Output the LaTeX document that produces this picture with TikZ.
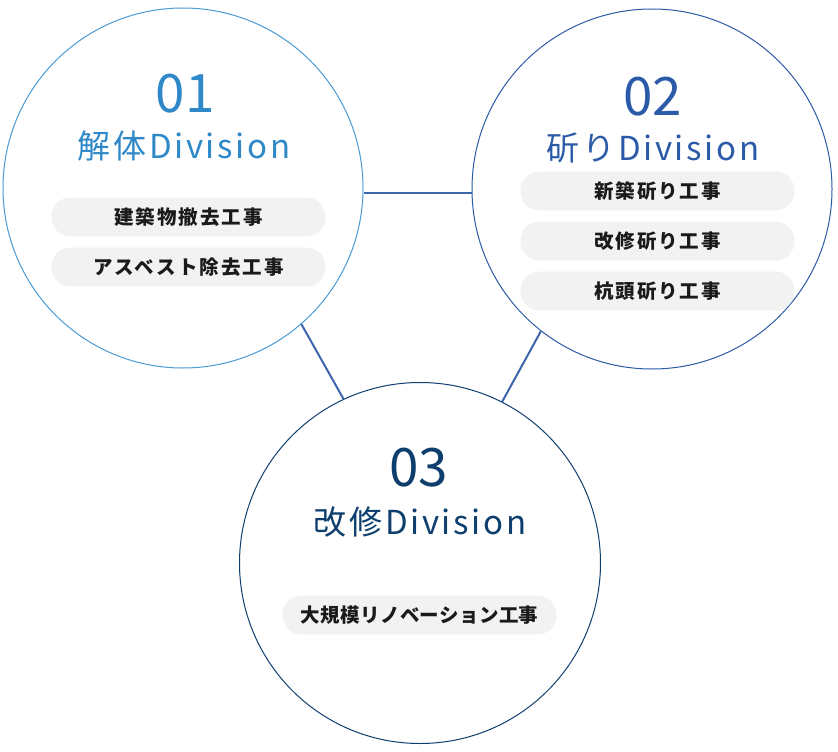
\documentclass[tikz,border=0pt]{standalone}
\usepackage{fontspec}
\setmainfont{Noto Sans CJK JP}
\definecolor{blueA}{HTML}{2F88C8}
\definecolor{blueAline}{HTML}{4A9AD6}
\definecolor{blueB}{HTML}{2B5BA8}
\definecolor{blueC}{HTML}{0D3E6E}
\definecolor{connc}{HTML}{3D65AD}
\definecolor{pillc}{HTML}{F2F2F2}
\definecolor{txtc}{HTML}{1A1A1A}
\tikzset{
  circ/.style={circle, draw, line width=1pt, minimum size=360pt, inner sep=0pt},
  numtxt/.style={font=\fontsize{53}{53}\selectfont, inner sep=0pt},
  divtxt/.style={font=\fontsize{33}{33}\selectfont\addfontfeature{LetterSpace=8}, inner sep=0pt},
  pill/.style={fill=pillc, rounded corners=19pt, minimum width=274pt, minimum height=39pt, inner sep=0pt,
    text=txtc, font=\fontsize{19.5}{19.5}\selectfont\bfseries\addfontfeature{LetterSpace=10}},
  conn/.style={draw=connc, line width=2pt},
}
\begin{document}
\begin{tikzpicture}[x=1pt,y=-1pt]
\useasboundingbox (0,0) rectangle (838,752);
% circles
\node[circ, draw=blueAline] (c1) at (183,188) {};
\node[circ, draw=blueB] (c2) at (652,189) {};
\node[circ, draw=blueC, minimum size=361pt] (c3) at (420,563) {};
% connectors
\coordinate (h) at (418,193);
\draw[conn] (c1.east |- h) -- (c2.west |- h);
\draw[conn] (c1.-49.5) -- (c3.115);
\draw[conn] (c2.232.9) -- (c3.63);
% circle 1
\node[numtxt, text=blueA] (n1) at (185,94) {01};
\node[divtxt, text=blueA] (d1) at (184,146) {解体Division};
\node[pill] (p11) at (188.5,217) {建築物撤去工事};
\node[pill] (p12) at (188.5,267) {アスベスト除去工事};
% circle 2
\node[numtxt, text=blueB] (n2) at (652.5,97) {02};
\node[divtxt, text=blueB] (d2) at (653,148) {斫りDivision};
\node[pill] (p21) at (657.5,191) {新築斫り工事};
\node[pill] (p22) at (657.5,241) {改修斫り工事};
\node[pill] (p23) at (657.5,291) {杭頭斫り工事};
% circle 3
\node[numtxt, text=blueC] (n3) at (418.5,468) {03};
\node[divtxt, text=blueC] (d3) at (420,522) {改修Division};
\node[pill, font=\fontsize{19.5}{19.5}\selectfont\bfseries\addfontfeature{LetterSpace=2}] (p31) at (419.5,615) {大規模リノベーション工事};
\end{tikzpicture}
\end{document}
